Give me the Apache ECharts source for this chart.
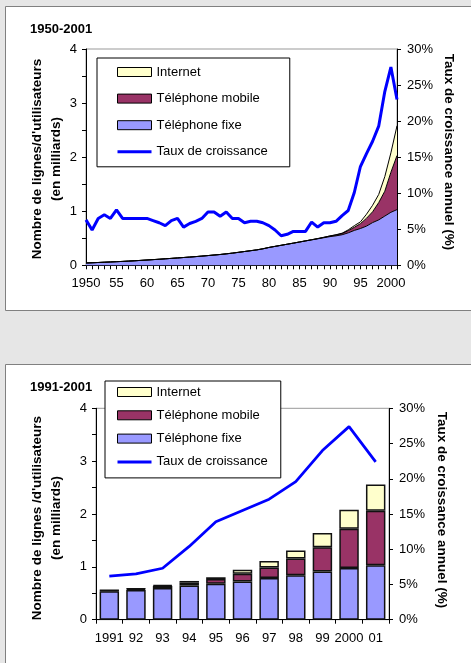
<!DOCTYPE html>
<html><head><meta charset="utf-8">
<script src="https://cdn.jsdelivr.net/npm/echarts@6/dist/echarts.min.js"></script>
<style>html,body{margin:0;padding:0;background:#e6e6e6;}#c{width:471px;height:663px;}</style>
</head><body><div id="c"></div>
<script>
// ---------- Data: chart 1 (1950-2001) ----------
const yearsTop = ['1950','1951','1952','1953','1954','1955','1956','1957','1958','1959',
  '1960','1961','1962','1963','1964','1965','1966','1967','1968','1969',
  '1970','1971','1972','1973','1974','1975','1976','1977','1978','1979',
  '1980','1981','1982','1983','1984','1985','1986','1987','1988','1989',
  '1990','1991','1992','1993','1994','1995','1996','1997','1998','1999',
  '2000','2001'];
const fixeTop = [0.043,0.047,0.052,0.057,0.062,0.067,0.072,0.078,0.084,0.091,
  0.098,0.105,0.112,0.120,0.128,0.136,0.144,0.152,0.161,0.170,
  0.180,0.190,0.200,0.212,0.225,0.240,0.255,0.270,0.285,0.305,
  0.330,0.350,0.370,0.390,0.410,0.430,0.450,0.470,0.490,0.510,
  0.530,0.545,0.565,0.600,0.645,0.680,0.725,0.790,0.840,0.910,
  0.980,1.030];
const mobileTop = [0,0,0,0,0,0,0,0,0,0,
  0,0,0,0,0,0,0,0,0,0,
  0,0,0,0,0,0,0,0,0,0,
  0,0,0,0,0,0.001,0.002,0.003,0.004,0.007,
  0.011,0.016,0.023,0.040,0.058,0.090,0.145,0.200,0.320,0.460,
  0.740,1.000];
const internetTop = [0,0,0,0,0,0,0,0,0,0,
  0,0,0,0,0,0,0,0,0,0,
  0,0,0,0,0,0,0,0,0,0,
  0,0,0,0,0,0,0,0,0,0,
  0.002,0.004,0.006,0.015,0.030,0.033,0.075,0.120,0.150,0.270,
  0.360,0.550];
const rateTop = [6.3,4.9,6.5,7.0,6.5,7.7,6.5,6.5,6.5,6.5,
  6.5,6.2,5.9,5.5,6.2,6.5,5.3,5.8,6.1,6.5,
  7.4,7.4,6.8,7.4,6.5,6.5,5.9,6.1,6.1,5.9,
  5.5,4.9,4.1,4.3,4.7,4.7,4.7,6.0,5.3,5.9,
  5.9,6.1,6.9,7.6,10.1,13.7,15.5,17.2,19.3,24.1,
  27.5,23.0];

// ---------- Data: chart 2 (1991-2001) ----------
const yearsBot = ['1991','92','93','94','95','96','97','98','99','2000','01'];
const fixeBot = [0.54,0.56,0.60,0.645,0.68,0.725,0.79,0.84,0.91,0.98,1.03];
const mobileBot = [0.016,0.023,0.04,0.058,0.09,0.145,0.20,0.32,0.46,0.74,1.03];
const internetBot = [0.004,0.006,0.015,0.03,0.033,0.075,0.12,0.15,0.27,0.36,0.50];
const rateBot = [6.2,6.5,7.3,10.4,13.9,15.5,17.1,19.6,24.0,27.4,22.4];

// ---------- Labels ----------
const names = ['Internet','Téléphone mobile','Téléphone fixe','Taux de croissance'];
const leftTitle = "Nombre de lignes/d'utilisateurs\n(en milliards)";
const leftTitle2 = "Nombre de lignes /d'utilisateurs\n(en milliards)";
const rightTitle = 'Taux de croissance annuel (%)';

const FONT = "'Liberation Sans', Arial, sans-serif";
const C_FIXE = '#9999FF', C_MOB = '#993366', C_NET = '#FFFFCC', C_RATE = '#0000FF';

const chart = echarts.init(document.getElementById('c'), null, {renderer:'canvas'});

function leftAxis(grid){
  return {type:'value', gridIndex:grid, min:0, max:4, interval:0.5, position:'left',
    axisLine:{show:true, lineStyle:{color:'#000', width:1}},
    axisTick:{show:true, inside:false, length:4, lineStyle:{color:'#000'}},
    splitLine:{show:false},
    axisLabel:{color:'#000', fontFamily:FONT, fontSize:13, margin:9,
      formatter:v => (Math.abs(v - Math.round(v)) < 1e-9 ? String(Math.round(v)) : '')}};
}
function rightAxis(grid){
  return {type:'value', gridIndex:grid, min:0, max:30, interval:5, position:'right',
    axisLine:{show:true, lineStyle:{color:'#000', width:1}},
    axisTick:{show:true, inside:false, length:4, lineStyle:{color:'#000'}},
    splitLine:{show:false},
    axisLabel:{color:'#000', fontFamily:FONT, fontSize:13, margin:10, formatter:'{value}%'}};
}
function legendData(){
  return [
    {name:names[0], icon:'rect', itemStyle:{borderColor:'#000', borderWidth:1}},
    {name:names[1], icon:'rect', itemStyle:{borderColor:'#000', borderWidth:1}},
    {name:names[2], icon:'rect', itemStyle:{borderColor:'#000', borderWidth:1}},
    {name:names[3], icon:'path://M0,0H34V3H0Z', itemStyle:{borderWidth:0, color:C_RATE}}
  ];
}

const option = {
  backgroundColor:'#e6e6e6',
  animation:false,
  graphic:[
    {type:'rect', z:-100, shape:{x:5.5, y:6.5, width:480, height:304},
      style:{fill:'#fff', stroke:'#808080', lineWidth:1}, silent:true},
    {type:'rect', z:-100, shape:{x:5.5, y:364.5, width:480, height:320},
      style:{fill:'#fff', stroke:'#808080', lineWidth:1}, silent:true},
    {type:'text', x:30, y:29, style:{text:'1950-2001', font:"bold 13px "+FONT, fill:'#000', textAlign:'left', textVerticalAlign:'middle'}},
    {type:'text', x:30, y:387, style:{text:'1991-2001', font:"bold 13px "+FONT, fill:'#000', textAlign:'left', textVerticalAlign:'middle'}},
    {type:'text', x:46.5, y:159, rotation:Math.PI/2,
      style:{text:leftTitle, font:"bold 13.5px "+FONT, lineHeight:19, fill:'#000', textAlign:'center', textVerticalAlign:'middle'}},
    {type:'text', x:46.5, y:518, rotation:Math.PI/2,
      style:{text:leftTitle2, font:"bold 13.5px "+FONT, lineHeight:19, fill:'#000', textAlign:'center', textVerticalAlign:'middle'}},
    {type:'text', x:449, y:152, rotation:-Math.PI/2,
      style:{text:rightTitle, font:"bold 13.5px "+FONT, fill:'#000', textAlign:'center', textVerticalAlign:'middle'}},
    {type:'text', x:442, y:510, rotation:-Math.PI/2,
      style:{text:rightTitle, font:"bold 13.5px "+FONT, fill:'#000', textAlign:'center', textVerticalAlign:'middle'}}
  ],
  legend:[
    {orient:'vertical', left:97, top:58, padding:[7,22,8,20], itemGap:12.6,
      itemWidth:34, itemHeight:9, selectedMode:false,
      backgroundColor:'#fff', borderColor:'#000', borderWidth:1,
      textStyle:{color:'#000', fontFamily:FONT, fontSize:13, lineHeight:14},
      data:legendData()},
    {orient:'vertical', left:105, top:381, padding:[4,13,9,12], itemGap:9.3,
      itemWidth:34, itemHeight:9, selectedMode:false,
      backgroundColor:'#fff', borderColor:'#000', borderWidth:1,
      textStyle:{color:'#000', fontFamily:FONT, fontSize:13, lineHeight:14},
      data:legendData()}
  ],
  grid:[
    {left:86, top:49, width:311, height:216.3, show:true, borderColor:'#999', borderWidth:1, backgroundColor:'transparent'},
    {left:96, top:408.3, width:293, height:211.4, show:true, borderColor:'#999', borderWidth:1, backgroundColor:'transparent'}
  ],
  xAxis:[
    {type:'category', gridIndex:0, data:yearsTop, boundaryGap:false,
      axisLine:{lineStyle:{color:'#000', width:1}},
      axisTick:{show:true, interval:0, length:4, lineStyle:{color:'#000'}},
      splitLine:{show:false},
      axisLabel:{color:'#000', fontFamily:FONT, fontSize:13, margin:12,
        interval:(i, v) => Number(v) % 5 === 0,
        formatter:v => (v === '1950' || v === '2000') ? v : v.slice(2)}},
    {type:'category', gridIndex:1, data:yearsBot, boundaryGap:true,
      axisLine:{lineStyle:{color:'#000', width:1}},
      axisTick:{show:true, interval:0, length:4, lineStyle:{color:'#000'}},
      splitLine:{show:false},
      axisLabel:{color:'#000', fontFamily:FONT, fontSize:13, margin:12, interval:0}}
  ],
  yAxis:[leftAxis(0), rightAxis(0), leftAxis(1), rightAxis(1)],
  series:[
    {name:names[2], type:'line', xAxisIndex:0, yAxisIndex:0, stack:'top', data:fixeTop,
      symbol:'none', itemStyle:{color:C_FIXE}, lineStyle:{color:'#000', width:1},
      areaStyle:{color:C_FIXE, opacity:1}, z:2},
    {name:names[1], type:'line', xAxisIndex:0, yAxisIndex:0, stack:'top', data:mobileTop,
      symbol:'none', itemStyle:{color:C_MOB}, lineStyle:{color:'#000', width:1},
      areaStyle:{color:C_MOB, opacity:1}, z:2},
    {name:names[0], type:'line', xAxisIndex:0, yAxisIndex:0, stack:'top', data:internetTop,
      symbol:'none', itemStyle:{color:C_NET}, lineStyle:{color:'#000', width:1},
      areaStyle:{color:C_NET, opacity:1}, z:2},
    {name:names[3], type:'line', xAxisIndex:0, yAxisIndex:1, data:rateTop,
      symbol:'none', itemStyle:{color:C_RATE}, lineStyle:{color:C_RATE, width:3}, z:3},

    {name:names[2], type:'bar', xAxisIndex:1, yAxisIndex:2, stack:'bot', data:fixeBot,
      barCategoryGap:'27%', itemStyle:{color:C_FIXE, borderColor:'#111', borderWidth:1.5}, z:2},
    {name:names[1], type:'bar', xAxisIndex:1, yAxisIndex:2, stack:'bot', data:mobileBot,
      barCategoryGap:'27%', itemStyle:{color:C_MOB, borderColor:'#111', borderWidth:1.5}, z:2},
    {name:names[0], type:'bar', xAxisIndex:1, yAxisIndex:2, stack:'bot', data:internetBot,
      barCategoryGap:'27%', itemStyle:{color:C_NET, borderColor:'#111', borderWidth:1.5}, z:2},
    {name:names[3], type:'line', xAxisIndex:1, yAxisIndex:3, data:rateBot,
      symbol:'none', itemStyle:{color:C_RATE}, lineStyle:{color:C_RATE, width:2.75}, z:3}
  ]
};
chart.setOption(option);
</script>
</body></html>
